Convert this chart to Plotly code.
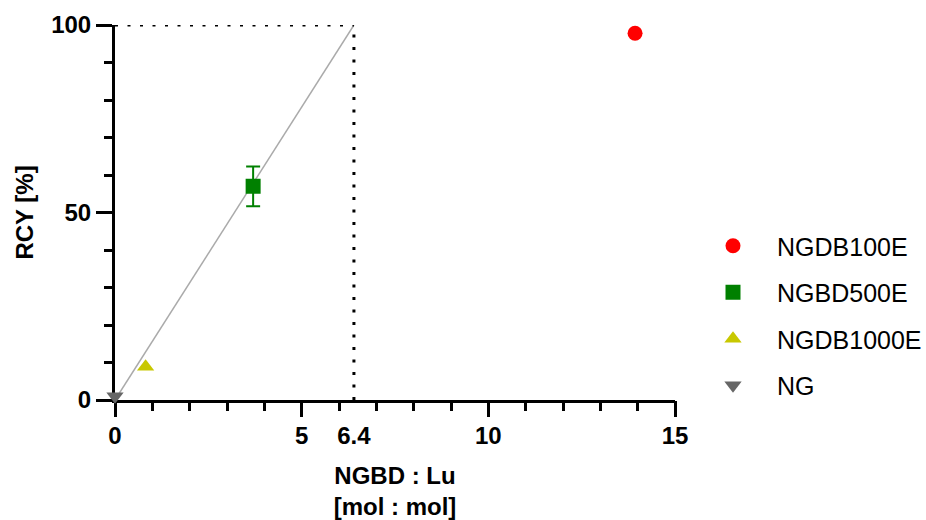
import plotly.graph_objects as go

# ---- data ----
series_names = ["NGDB100E", "NGBD500E", "NGDB1000E", "NG"]
x_ratio = [13.93, 3.70, 0.82, 0.0]
y_rcy = [97.8, 57.0, 8.9, 1.0]
y_err = [None, 5.3, None, None]
colors = ["#FF0000", "#008000", "#C8C800", "#666666"]
symbols = ["circle", "square", "triangle-up", "triangle-down"]

fit_x = [0.0, 6.4]
fit_y = [0.0, 100.0]
guide_x_value = 6.4
guide_y_value = 100.0

x_major_ticks = [0, 5, 10, 15]
x_label_vals = [0, 5, 6.4, 10, 15]
x_label_text = ["0", "5", "6.4", "10", "15"]
y_major_ticks = [0, 50, 100]
y_label_text = ["0", "50", "100"]

FONT = "Liberation Sans, Arial, sans-serif"

fig = go.Figure()

# fit line
fig.add_trace(go.Scatter(x=fit_x, y=fit_y, mode="lines",
                         line=dict(color="#AAAAAA", width=1.5),
                         showlegend=False, hoverinfo="skip", cliponaxis=False))

for i, name in enumerate(series_names):
    err = None
    if y_err[i] is not None:
        err = dict(type="data", array=[y_err[i]], visible=True,
                   color=colors[i], thickness=2, width=7)
    fig.add_trace(go.Scatter(
        x=[x_ratio[i]], y=[y_rcy[i]], mode="markers", name=name,
        legendgroup=name,
        marker=dict(symbol=symbols[i], color=colors[i], size=15,
                    line=dict(width=0)),
        error_y=err, cliponaxis=False))

# dotted guide lines (on overlay axis so they share its scale)
fig.add_trace(go.Scatter(x=[0, guide_x_value], y=[guide_y_value, guide_y_value],
                         mode="lines", line=dict(color="black", width=3, dash="3px,9.5px"),
                         showlegend=False, hoverinfo="skip", cliponaxis=False,
                         xaxis="x2"))
fig.add_trace(go.Scatter(x=[guide_x_value, guide_x_value], y=[0, guide_y_value],
                         mode="lines", line=dict(color="black", width=3, dash="3px,9.5px"),
                         showlegend=False, hoverinfo="skip", cliponaxis=False,
                         xaxis="x2"))

tickfont = dict(family=FONT, size=24, color="black", weight="bold")
titlefont = dict(family=FONT, size=24, color="black", weight="bold")

fig.update_layout(
    width=926, height=520,
    margin=dict(l=115, r=251, t=25, b=120, autoexpand=False),
    paper_bgcolor="white", plot_bgcolor="white",
    font=dict(family=FONT, color="black"),
    xaxis=dict(range=[0, 15], tickvals=x_label_vals, ticktext=x_label_text,
               ticks="outside", ticklen=12, tickwidth=3, tickcolor="rgba(0,0,0,0)",
               minor=dict(dtick=1, ticks="outside", ticklen=8, tickwidth=3, tickcolor="black"),
               showline=True, linewidth=3, linecolor="black", mirror=False,
               showgrid=False, zeroline=False, tickfont=tickfont, automargin=False,
               title=dict(text="NGBD : Lu<br>[mol : mol]", font=titlefont, standoff=31),
               layer="below traces", fixedrange=True),
    xaxis2=dict(range=[0, 15], overlaying="x", anchor="y", side="bottom",
                tickvals=x_major_ticks, ticks="outside", ticklen=16, tickwidth=3,
                tickcolor="black", showticklabels=False, showline=False, automargin=False,
                showgrid=False, zeroline=False, layer="below traces"),
    yaxis=dict(range=[0, 100], tickvals=y_major_ticks, ticktext=y_label_text,
               ticks="outside", ticklen=16, tickwidth=3, tickcolor="black",
               minor=dict(dtick=10, ticks="outside", ticklen=8, tickwidth=3, tickcolor="black"),
               showline=True, linewidth=3, linecolor="black", automargin=False,
               showgrid=False, zeroline=False, tickfont=tickfont,
               title=dict(text="RCY [%]", font=titlefont, standoff=11),
               layer="below traces"),
    legend=dict(x=1.025, xanchor="left", y=0.472, yanchor="top",
                font=dict(family=FONT, size=25, color="black"),
                tracegroupgap=11, itemwidth=78, bgcolor="rgba(0,0,0,0)"),
    showlegend=True,
)

fig.write_html("out.html", config={"displayModeBar": False},
               post_script="document.body.style.margin='0';document.body.style.overflow='hidden';")
